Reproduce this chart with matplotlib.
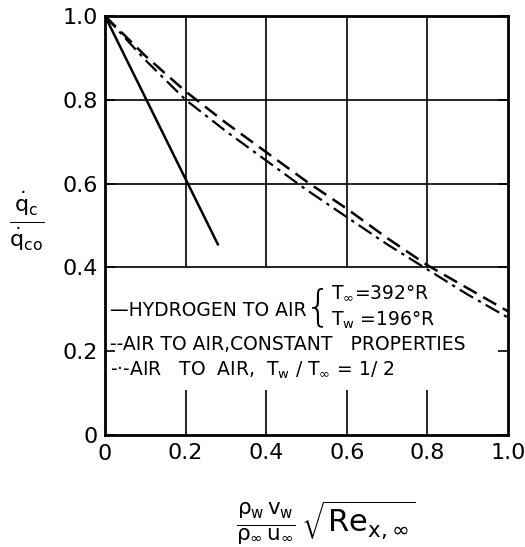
import matplotlib
matplotlib.use("Agg")
import matplotlib.pyplot as plt

plt.rcParams['font.family'] = ['DejaVu Sans']
plt.rcParams['mathtext.fontset'] = 'dejavusans'
plt.rcParams['mathtext.default'] = 'regular'

# blowing parameter (x) and heat transfer ratio (y)
x_h2 = [0.0, 0.28]
y_h2 = [1.0, 0.455]

x_air = [0.0, 0.1, 0.2, 0.3, 0.4, 0.5, 0.6, 0.7, 0.8, 0.9, 1.0]
y_const = [1.0, 0.905, 0.82, 0.745, 0.675, 0.605, 0.54, 0.47, 0.405, 0.35, 0.295]
y_ratio = [1.0, 0.895, 0.80, 0.725, 0.655, 0.585, 0.52, 0.455, 0.395, 0.335, 0.28]

ticks = [0, 0.2, 0.4, 0.6, 0.8, 1.0]
tick_labels = ['0', '0.2', '0.4', '0.6', '0.8', '1.0']
x_grid = [0.2, 0.4, 0.6, 0.8]
y_grid = [0.4, 0.6, 0.8]

fig = plt.figure(figsize=(5.25, 5.47), dpi=100)
ax = fig.add_axes([0.2, 0.205, 0.7676, 0.7657])

# grid, interrupted by the key block
ax.vlines(x_grid, 0.4, 1.0, color='black', lw=1.2)
ax.vlines(x_grid, 0.0, 0.107, color='black', lw=1.2)
ax.hlines(y_grid, 0, 1.0, color='black', lw=1.2)

ax.plot(x_h2, y_h2, color='black', lw=1.8)
ax.plot(x_air, y_const, color='black', lw=1.8, ls=(0, (6, 3)))
ax.plot(x_air, y_ratio, color='black', lw=1.6, ls=(0, (7, 2.5, 1.5, 2.5)))

ax.set_xlim(0, 1.0)
ax.set_ylim(0, 1.0)
ax.set_xticks(ticks[1:])
ax.set_xticklabels(tick_labels[1:], fontsize=16)
ax.set_yticks(ticks)
ax.set_yticklabels(tick_labels, fontsize=16)
ax.tick_params(axis='x', length=0, pad=6)
ax.tick_params(axis='y', direction='in', length=7, width=1.2, right=True, pad=5)
for s in ax.spines.values():
    s.set_linewidth(2)

# origin label for x axis
ax.text(0.0, -0.045, '0', fontsize=16, ha='center', va='center')

# key
fs = 13.5
ax.text(0.012, 0.298, '—HYDROGEN TO AIR', fontsize=fs, va='center', ha='left')
ax.text(0.497, 0.303, '{', fontsize=30, va='center', ha='left', fontweight='light')
ax.text(0.56, 0.339, r'$T_\infty$=392°R', fontsize=fs, va='center', ha='left')
ax.text(0.56, 0.274, r'$T_w$ =196°R', fontsize=fs, va='center', ha='left')
ax.text(0.012, 0.215, '--AIR TO AIR,CONSTANT   PROPERTIES', fontsize=fs, va='center', ha='left')
ax.text(0.012, 0.155, r'-·-AIR   TO  AIR,  $T_w$ / $T_\infty$ = 1/ 2', fontsize=fs, va='center', ha='left')

# axis titles
fig.text(0.051, 0.596, r'$\frac{\dot{q}_c}{\dot{q}_{co}}$', fontsize=23, ha='center', va='center')
fig.text(0.62, 0.044, r'$\frac{\rho_w\,v_w}{\rho_\infty\,u_\infty}\,\sqrt{Re_{x,\infty}}$',
         fontsize=22, ha='center', va='center')

fig.savefig('out.png', dpi=100)
